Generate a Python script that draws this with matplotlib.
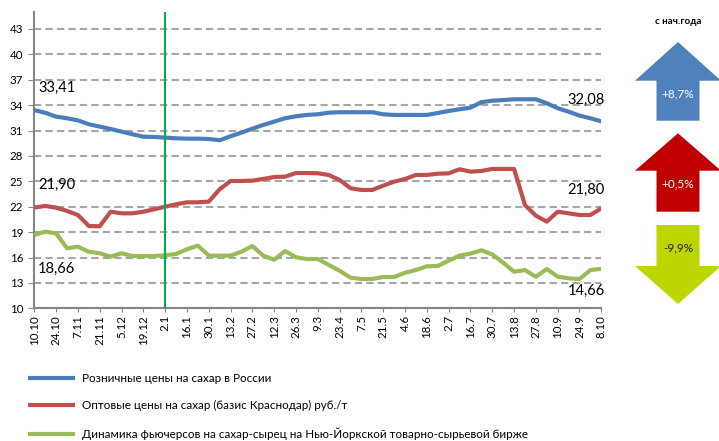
import matplotlib
matplotlib.use("Agg")
import matplotlib.pyplot as plt
from matplotlib.patches import Polygon

plt.rcParams['font.family'] = ['Lato', 'Noto Sans', 'DejaVu Sans']

# weekly points, 10.10 ... 8.10 (53 weeks)
retail = [33.41, 33.10, 32.64, 32.45, 32.20, 31.74, 31.46, 31.18, 30.87, 30.56,
          30.27, 30.24, 30.16, 30.08, 30.04, 30.04, 30.00, 29.85, 30.32, 30.75,
          31.22, 31.66, 32.05, 32.45, 32.68, 32.84, 32.92, 33.11, 33.16, 33.16,
          33.16, 33.16, 32.92, 32.84, 32.84, 32.84, 32.84, 33.07, 33.31, 33.51,
          33.70, 34.35, 34.52, 34.60, 34.69, 34.69, 34.69, 34.22, 33.63, 33.23,
          32.76, 32.45, 32.08]
wholesale = [21.90, 22.09, 21.89, 21.50, 21.02, 19.72, 19.69, 21.41, 21.22, 21.22,
             21.41, 21.70, 22.00, 22.29, 22.52, 22.52, 22.60, 24.06, 25.04, 25.04,
             25.08, 25.28, 25.51, 25.55, 25.98, 25.98, 25.95, 25.75, 25.16, 24.18,
             23.98, 23.98, 24.49, 24.96, 25.28, 25.75, 25.75, 25.90, 25.94, 26.42,
             26.14, 26.22, 26.46, 26.46, 26.46, 22.20, 20.94, 20.23, 21.41, 21.22,
             21.02, 21.02, 21.80]
futures = [18.66, 19.05, 18.86, 17.09, 17.28, 16.69, 16.50, 16.10, 16.50, 16.18,
           16.18, 16.18, 16.26, 16.42, 16.97, 17.40, 16.22, 16.22, 16.22, 16.69,
           17.36, 16.22, 15.74, 16.77, 16.03, 15.82, 15.82, 15.12, 14.44, 13.62,
           13.46, 13.46, 13.70, 13.70, 14.20, 14.52, 14.96, 15.00, 15.63, 16.22,
           16.46, 16.85, 16.36, 15.39, 14.32, 14.52, 13.73, 14.64, 13.73, 13.54,
           13.46, 14.52, 14.66]

tick_labels = ["10.10", "24.10", "7.11", "21.11", "5.12", "19.12", "2.1", "16.1",
               "30.1", "13.2", "27.2", "12.3", "26.3", "9.3", "23.4", "7.5", "21.5",
               "4.6", "18.6", "2.7", "16.7", "30.7", "13.8", "27.8", "10.9", "24.9",
               "8.10"]
series_names = ["Розничные цены на сахар в России",
                "Оптовые цены на сахар (базис Краснодар) руб./т",
                "Динамика фьючерсов на сахар-сырец на Нью-Йоркской товарно-сырьевой бирже"]
series_colors = ["#4a7ebb", "#c0504d", "#9bbb59"]
arrow_labels = ["+8,7%", "+0,5%", "-9,9%"]
arrow_colors = ["#4f81bd", "#c00000", "#bed600"]

W, H = 719, 441
fig = plt.figure(figsize=(W / 100, H / 100), dpi=100)
ax = fig.add_axes([34.3 / W, 1 - 308.3 / H, (601.3 - 34.3) / W, (308.3 - 12) / H])

x = list(range(len(retail)))
lines = []
for vals, col, name in zip([retail, wholesale, futures], series_colors, series_names):
    ln, = ax.plot(x, vals, color=col, lw=3, solid_capstyle='butt', label=name, zorder=3)
    lines.append(ln)

ax.axvline(12, color="#00b050", lw=1.5, zorder=4)

ax.set_xlim(0, len(retail) - 1)
ax.set_ylim(10, 45)
ax.set_yticks(range(10, 44, 3))
ax.set_xticks(range(0, len(retail), 2))
ax.set_xticklabels(tick_labels, rotation=90, fontsize=8.3)
ax.tick_params(axis='y', labelsize=8.3, length=4, color="#868686", pad=4)
ax.tick_params(axis='x', length=3, color="#868686", pad=2)
for s in ["top", "right"]:
    ax.spines[s].set_visible(False)
for s in ["left", "bottom"]:
    ax.spines[s].set_color("#868686")
    ax.spines[s].set_linewidth(1.5)
ax.yaxis.grid(True, color="#a6a6a6", lw=1.5, linestyle=(0, (3.5, 2)))
ax.set_axisbelow(True)

# end value labels
lab = dict(fontsize=10.5, color="black", va='center')
ax.text(0.35, retail[0] + 2.6, f"{retail[0]:.2f}".replace(".", ","), ha='left', **lab)
ax.text(0.35, wholesale[0] + 2.67, f"{wholesale[0]:.2f}".replace(".", ","), ha='left', **lab)
ax.text(0.35, futures[0] - 4.0, f"{futures[0]:.2f}".replace(".", ","), ha='left', **lab)
ax.text(52.3, retail[-1] + 2.5, f"{retail[-1]:.2f}".replace(".", ","), ha='right', clip_on=False, **lab)
ax.text(52.3, wholesale[-1] + 2.2, f"{wholesale[-1]:.2f}".replace(".", ","), ha='right', clip_on=False, **lab)
ax.text(52.3, futures[-1] - 2.6, f"{futures[-1]:.2f}".replace(".", ","), ha='right', clip_on=False, **lab)

# legend below the chart
leg = fig.legend(handles=lines, loc='upper left', bbox_to_anchor=(28 / W, 1 - 373 / H),
                 frameon=False, fontsize=8.4, handlelength=4.0, handletextpad=0.6,
                 labelspacing=1.4, borderpad=0, borderaxespad=0)

# arrows "since start of year"
def px(pts):
    return [(a / W, 1 - b / H) for a, b in pts]

cx = 678
hw, sw = 43, 21.5
arrows = [(42, 80.7, 120.7, 'up'), (133.3, 170.7, 211.7, 'up'), (225, 266, 304, 'down')]
text_y = [94, 184, 248]
for (a, b, c, d), col, txt, ty in zip(arrows, arrow_colors, arrow_labels, text_y):
    if d == 'up':
        pts = [(cx, a), (cx + hw, b), (cx + sw, b), (cx + sw, c), (cx - sw, c), (cx - sw, b), (cx - hw, b)]
    else:
        pts = [(cx - sw, a), (cx + sw, a), (cx + sw, b), (cx + hw, b), (cx, c), (cx - hw, b), (cx - sw, b)]
    fig.add_artist(Polygon(px(pts), closed=True, transform=fig.transFigure,
                           facecolor=col, edgecolor='none'))
    fig.text(cx / W, 1 - ty / H, txt, ha='center', va='center', fontsize=8.5,
             color='white' if d == 'up' else '#222222')

fig.text(cx / W, 1 - 21 / H, "с нач.года", ha='center', va='center', fontsize=7, fontweight='bold')

fig.savefig("out.png", dpi=100)
